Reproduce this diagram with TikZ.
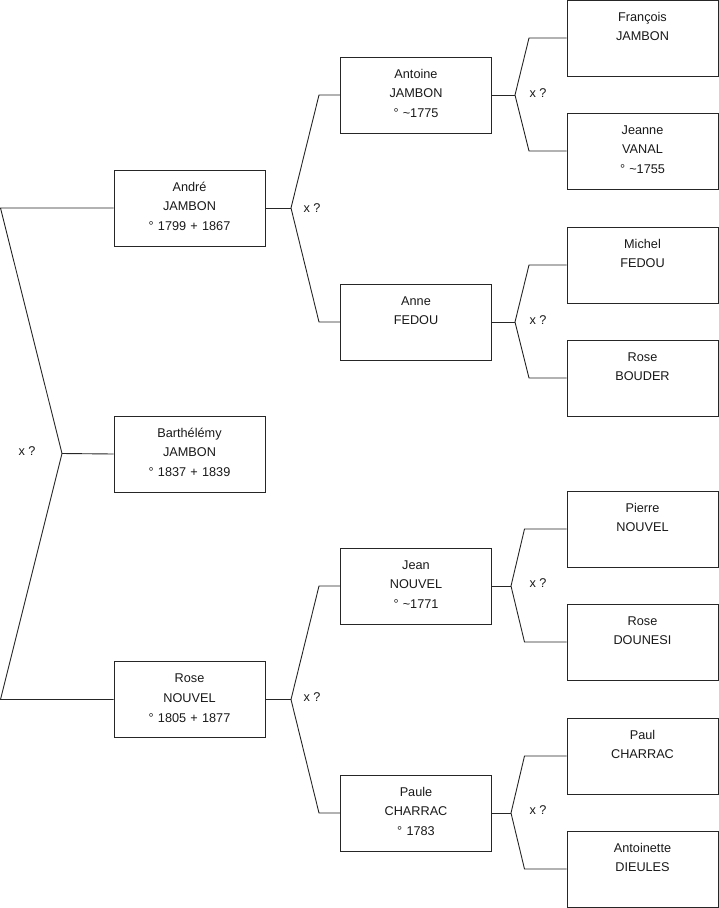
\documentclass[tikz,border=0pt]{standalone}
\usepackage{fontspec}
\setmainfont{Liberation Sans}
\begin{document}
\begin{tikzpicture}[x=1pt,y=-1pt,
  person/.style={draw=black!85, line width=0.9pt, rectangle, inner sep=0pt,
    minimum width=151pt, text width=151pt, align=center,
    text height=21pt, text depth=55pt,
    font=\fontsize{12.7}{19.8}\selectfont, text=black!90},
  link/.style={draw=black!85, line width=0.9pt},
  xq/.style={font=\fontsize{12.7}{14}\selectfont, inner sep=0pt, text=black!90}]
\useasboundingbox (0,0) rectangle (719,908);
% column 1
\node[person] (andre) at (189.5,208) {André\\JAMBON\\° 1799 + 1867};
\node[person] (barth) at (189.5,454) {Barthélémy\\JAMBON\\° 1837 + 1839};
\node[person] (rosen) at (189.5,699.5) {Rose\\NOUVEL\\° 1805 + 1877};
% column 2
\node[person] (antoine) at (416,95) {Antoine\\JAMBON\\° \char`\~1775};
\node[person] (anne) at (416,322) {Anne\\FEDOU\\};
\node[person] (jean) at (416,586) {Jean\\NOUVEL\\° \char`\~1771};
\node[person] (paule) at (416,813) {Paule\\CHARRAC\\° 1783};
% column 3
\node[person] (francois) at (642.5,38) {François\\JAMBON\\};
\node[person] (jeanne) at (642.5,151) {Jeanne\\VANAL\\° \char`\~1755};
\node[person] (michel) at (642.5,265) {Michel\\FEDOU\\};
\node[person] (roseb) at (642.5,378) {Rose\\BOUDER\\};
\node[person] (pierre) at (642.5,529) {Pierre\\NOUVEL\\};
\node[person] (rosed) at (642.5,642) {Rose\\DOUNESI\\};
\node[person] (paul) at (642.5,756) {Paul\\CHARRAC\\};
\node[person] (antoinette) at (642.5,869) {Antoinette\\DIEULES\\};

% left couple
\coordinate (lt) at (0.5,208);
\coordinate (lb) at (0.5,699.5);
\coordinate (lj) at (62,453.5);
\draw[link] (andre.west) -- (lt) -- (lj) -- (lb) -- (rosen.west);
\draw[link] (lj) -- (barth.west);
\node[xq] (xq0) at (27,451) {x ?};

% André's parents
\coordinate (j1) at (291,208);
\draw[link] (andre.east) -- (j1);
\draw[link] (antoine.west) -- (319,95) -- (j1) -- (319,322) -- (anne.west);
\node[xq] (xq1) at (312,208) {x ?};

% Rose's parents
\coordinate (j2) at (291,699.5);
\draw[link] (rosen.east) -- (j2);
\draw[link] (jean.west) -- (319,586) -- (j2) -- (319,813) -- (paule.west);
\node[xq] (xq2) at (312,697) {x ?};

% Antoine's parents
\coordinate (j3) at (515,95);
\draw[link] (antoine.east) -- (j3);
\draw[link] (francois.west) -- (529,38) -- (j3) -- (529,151) -- (jeanne.west);
\node[xq] (xq3) at (538,93) {x ?};

% Anne's parents
\coordinate (j4) at (515,322);
\draw[link] (anne.east) -- (j4);
\draw[link] (michel.west) -- (529,265) -- (j4) -- (529,378) -- (roseb.west);
\node[xq] (xq4) at (538,320) {x ?};

% Jean's parents
\coordinate (j5) at (511,586);
\draw[link] (jean.east) -- (j5);
\draw[link] (pierre.west) -- (524.5,529) -- (j5) -- (524.5,642) -- (rosed.west);
\node[xq] (xq5) at (538,583) {x ?};

% Paule's parents
\coordinate (j6) at (511,813);
\draw[link] (paule.east) -- (j6);
\draw[link] (paul.west) -- (524.5,756) -- (j6) -- (524.5,869) -- (antoinette.west);
\node[xq] (xq6) at (538,810) {x ?};
\end{tikzpicture}
\end{document}
